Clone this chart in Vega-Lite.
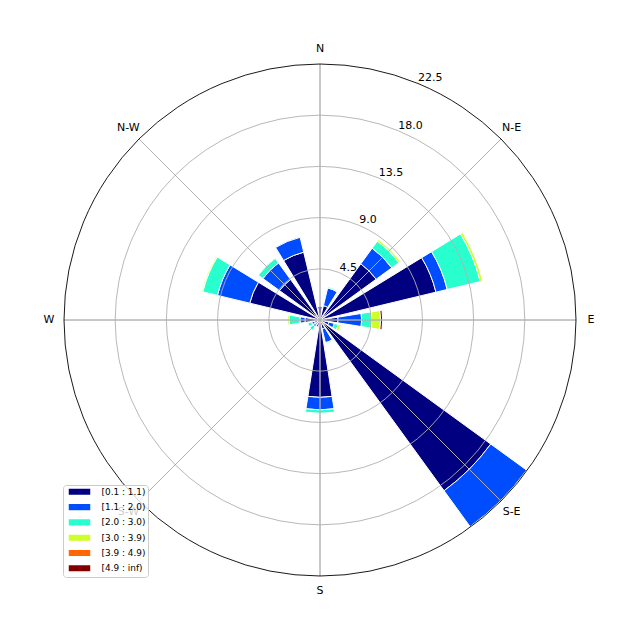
{
  "$schema": "https://vega.github.io/schema/vega-lite/v6.json",
  "width": 640,
  "height": 640,
  "padding": 0,
  "autosize": {"type": "none"},
  "background": "white",
  "config": {"view": {"stroke": null}},
  "datasets": {
    "rose": [
      {"direction": "N", "speed": "[0.1 : 1.1)", "rank": 1, "frequency": 1.2},
      {"direction": "NNE", "speed": "[0.1 : 1.1)", "rank": 1, "frequency": 1.3},
      {"direction": "NNE", "speed": "[1.1 : 2.0)", "rank": 2, "frequency": 1.6},
      {"direction": "NNE", "speed": "[2.0 : 3.0)", "rank": 3, "frequency": 0.1},
      {"direction": "NE", "speed": "[0.1 : 1.1)", "rank": 1, "frequency": 6.1},
      {"direction": "NE", "speed": "[1.1 : 2.0)", "rank": 2, "frequency": 1.7},
      {"direction": "NE", "speed": "[2.0 : 3.0)", "rank": 3, "frequency": 0.78},
      {"direction": "NE", "speed": "[3.0 : 3.9)", "rank": 4, "frequency": 0.17},
      {"direction": "ENE", "speed": "[0.1 : 1.1)", "rank": 1, "frequency": 10.48},
      {"direction": "ENE", "speed": "[1.1 : 2.0)", "rank": 2, "frequency": 1.02},
      {"direction": "ENE", "speed": "[2.0 : 3.0)", "rank": 3, "frequency": 2.98},
      {"direction": "ENE", "speed": "[3.0 : 3.9)", "rank": 4, "frequency": 0.22},
      {"direction": "E", "speed": "[0.1 : 1.1)", "rank": 1, "frequency": 1.58},
      {"direction": "E", "speed": "[1.1 : 2.0)", "rank": 2, "frequency": 2.08},
      {"direction": "E", "speed": "[2.0 : 3.0)", "rank": 3, "frequency": 0.88},
      {"direction": "E", "speed": "[3.0 : 3.9)", "rank": 4, "frequency": 0.79},
      {"direction": "E", "speed": "[4.9 : inf)", "rank": 6, "frequency": 0.18},
      {"direction": "ESE", "speed": "[0.1 : 1.1)", "rank": 1, "frequency": 0.8},
      {"direction": "ESE", "speed": "[1.1 : 2.0)", "rank": 2, "frequency": 0.5},
      {"direction": "ESE", "speed": "[2.0 : 3.0)", "rank": 3, "frequency": 0.35},
      {"direction": "ESE", "speed": "[3.0 : 3.9)", "rank": 4, "frequency": 0.25},
      {"direction": "SE", "speed": "[0.1 : 1.1)", "rank": 1, "frequency": 18.55},
      {"direction": "SE", "speed": "[1.1 : 2.0)", "rank": 2, "frequency": 3.9},
      {"direction": "SSE", "speed": "[0.1 : 1.1)", "rank": 1, "frequency": 0.8},
      {"direction": "SSE", "speed": "[1.1 : 2.0)", "rank": 2, "frequency": 1.25},
      {"direction": "SSE", "speed": "[2.0 : 3.0)", "rank": 3, "frequency": 0.1},
      {"direction": "S", "speed": "[0.1 : 1.1)", "rank": 1, "frequency": 6.8},
      {"direction": "S", "speed": "[1.1 : 2.0)", "rank": 2, "frequency": 1.1},
      {"direction": "S", "speed": "[2.0 : 3.0)", "rank": 3, "frequency": 0.3},
      {"direction": "SSW", "speed": "[0.1 : 1.1)", "rank": 1, "frequency": 0.6},
      {"direction": "SW", "speed": "[0.1 : 1.1)", "rank": 1, "frequency": 0.5},
      {"direction": "SW", "speed": "[1.1 : 2.0)", "rank": 2, "frequency": 0.25},
      {"direction": "SW", "speed": "[2.0 : 3.0)", "rank": 3, "frequency": 0.35},
      {"direction": "WSW", "speed": "[0.1 : 1.1)", "rank": 1, "frequency": 0.5},
      {"direction": "WSW", "speed": "[1.1 : 2.0)", "rank": 2, "frequency": 0.25},
      {"direction": "WSW", "speed": "[2.0 : 3.0)", "rank": 3, "frequency": 0.35},
      {"direction": "W", "speed": "[0.1 : 1.1)", "rank": 1, "frequency": 1.32},
      {"direction": "W", "speed": "[1.1 : 2.0)", "rank": 2, "frequency": 0.44},
      {"direction": "W", "speed": "[2.0 : 3.0)", "rank": 3, "frequency": 0.96},
      {"direction": "W", "speed": "[3.0 : 3.9)", "rank": 4, "frequency": 0.14},
      {"direction": "WNW", "speed": "[0.1 : 1.1)", "rank": 1, "frequency": 6.35},
      {"direction": "WNW", "speed": "[1.1 : 2.0)", "rank": 2, "frequency": 2.92},
      {"direction": "WNW", "speed": "[2.0 : 3.0)", "rank": 3, "frequency": 1.33},
      {"direction": "WNW", "speed": "[3.0 : 3.9)", "rank": 4, "frequency": 0.1},
      {"direction": "NW", "speed": "[0.1 : 1.1)", "rank": 1, "frequency": 4.4},
      {"direction": "NW", "speed": "[1.1 : 2.0)", "rank": 2, "frequency": 1.8},
      {"direction": "NW", "speed": "[2.0 : 3.0)", "rank": 3, "frequency": 0.5},
      {"direction": "NNW", "speed": "[0.1 : 1.1)", "rank": 1, "frequency": 6.13},
      {"direction": "NNW", "speed": "[1.1 : 2.0)", "rank": 2, "frequency": 1.34}
    ],
    "rings": [
      {"r": 4.5, "edge": "grid"},
      {"r": 9.0, "edge": "grid"},
      {"r": 13.5, "edge": "grid"},
      {"r": 18.0, "edge": "grid"},
      {"r": 22.5, "edge": "frame"}
    ],
    "spokes": [
      {"angle": 0}, {"angle": 45}, {"angle": 90}, {"angle": 135},
      {"angle": 180}, {"angle": 225}, {"angle": 270}, {"angle": 315}
    ],
    "compass": [
      {"angle": 0, "label": "N"},
      {"angle": 45, "label": "N-E"},
      {"angle": 90, "label": "E"},
      {"angle": 135, "label": "S-E"},
      {"angle": 180, "label": "S"},
      {"angle": 225, "label": "S-W"},
      {"angle": 270, "label": "W"},
      {"angle": 315, "label": "N-W"}
    ],
    "ticks": [
      {"r": 4.5, "label": "4.5"},
      {"r": 9.0, "label": "9.0"},
      {"r": 13.5, "label": "13.5"},
      {"r": 18.0, "label": "18.0"},
      {"r": 22.5, "label": "22.5"}
    ]
  },
  "layer": [
    {
      "data": {"name": "rose"},
      "mark": {"type": "arc", "stroke": "white", "strokeWidth": 1},
      "encoding": {
        "theta": {
          "field": "direction",
          "type": "nominal",
          "scale": {
            "type": "band",
            "domain": ["N", "NNE", "NE", "ENE", "E", "ESE", "SE", "SSE", "S", "SSW", "SW", "WSW", "W", "WNW", "NW", "NNW"],
            "range": [-0.19635, 6.08684],
            "paddingInner": 0.2,
            "paddingOuter": 0.1
          }
        },
        "radius": {
          "field": "frequency",
          "type": "quantitative",
          "stack": "zero",
          "scale": {"type": "linear", "domain": [0, 22.5], "range": [0, 256], "zero": true, "nice": false}
        },
        "color": {
          "field": "speed",
          "type": "nominal",
          "scale": {
            "domain": ["[0.1 : 1.1)", "[1.1 : 2.0)", "[2.0 : 3.0)", "[3.0 : 3.9)", "[3.9 : 4.9)", "[4.9 : inf)"],
            "range": ["#000080", "#004cff", "#29ffce", "#ceff29", "#ff6800", "#800000"]
          },
          "legend": {
            "title": null,
            "orient": "bottom-left",
            "offset": 63,
            "symbolType": "M-1,-0.95H4.75V0.95H-1Z",
            "symbolSize": 64,
            "symbolOffset": 2.2,
            "labelFont": "DejaVu Sans",
            "labelFontSize": 8.9,
            "labelColor": "black",
            "labelOffset": 24.6,
            "padding": 1.8,
            "rowPadding": 1.3,
            "fillColor": "rgba(255,255,255,0.8)",
            "strokeColor": "#cccccc",
            "cornerRadius": 3,
            "encode": {
              "symbols": {
                "update": {
                  "stroke": {"value": "black"},
                  "strokeWidth": {"value": 1},
                  "fillOpacity": {"value": 1},
                  "opacity": {"value": 1}
                }
              }
            }
          }
        },
        "order": {"field": "rank", "type": "quantitative", "sort": "ascending"}
      }
    },
    {
      "data": {"name": "spokes"},
      "mark": {"type": "arc", "filled": false, "stroke": "#b0b0b0", "strokeWidth": 0.9},
      "encoding": {
        "theta": {"field": "angle", "type": "quantitative", "stack": null, "scale": {"domain": [0, 360], "range": [0, 6.283185307], "zero": true, "nice": false}},
        "theta2": {"field": "angle"},
        "radius": {"datum": 22.5, "type": "quantitative", "scale": {"type": "linear", "domain": [0, 22.5], "range": [0, 256], "zero": true, "nice": false}}
      }
    },
    {
      "data": {"name": "rings"},
      "mark": {"type": "arc", "filled": false, "strokeWidth": 0.9},
      "encoding": {
        "radius": {"field": "r", "type": "quantitative", "stack": null, "scale": {"type": "linear", "domain": [0, 22.5], "range": [0, 256], "zero": true, "nice": false}},
        "stroke": {"field": "edge", "type": "nominal", "scale": {"domain": ["grid", "frame"], "range": ["#b0b0b0", "#000000"]}, "legend": null}
      }
    },
    {
      "data": {"name": "compass"},
      "mark": {"type": "text", "font": "DejaVu Sans", "fontSize": 11, "color": "black", "align": "center", "baseline": "middle", "radiusOffset": 15},
      "encoding": {
        "theta": {"field": "angle", "type": "quantitative", "stack": null, "scale": {"domain": [0, 360], "range": [0, 6.283185307], "zero": true, "nice": false}},
        "radius": {"datum": 22.5, "type": "quantitative"},
        "text": {"field": "label"}
      }
    },
    {
      "data": {"name": "ticks"},
      "mark": {"type": "text", "font": "DejaVu Sans", "fontSize": 11, "color": "black", "align": "left", "baseline": "bottom"},
      "encoding": {
        "theta": {"datum": 22.5, "type": "quantitative", "scale": {"domain": [0, 360], "range": [0, 6.283185307], "zero": true, "nice": false}},
        "radius": {"field": "r", "type": "quantitative"},
        "text": {"field": "label"}
      }
    }
  ],
  "resolve": {"scale": {"theta": "independent"}}
}
